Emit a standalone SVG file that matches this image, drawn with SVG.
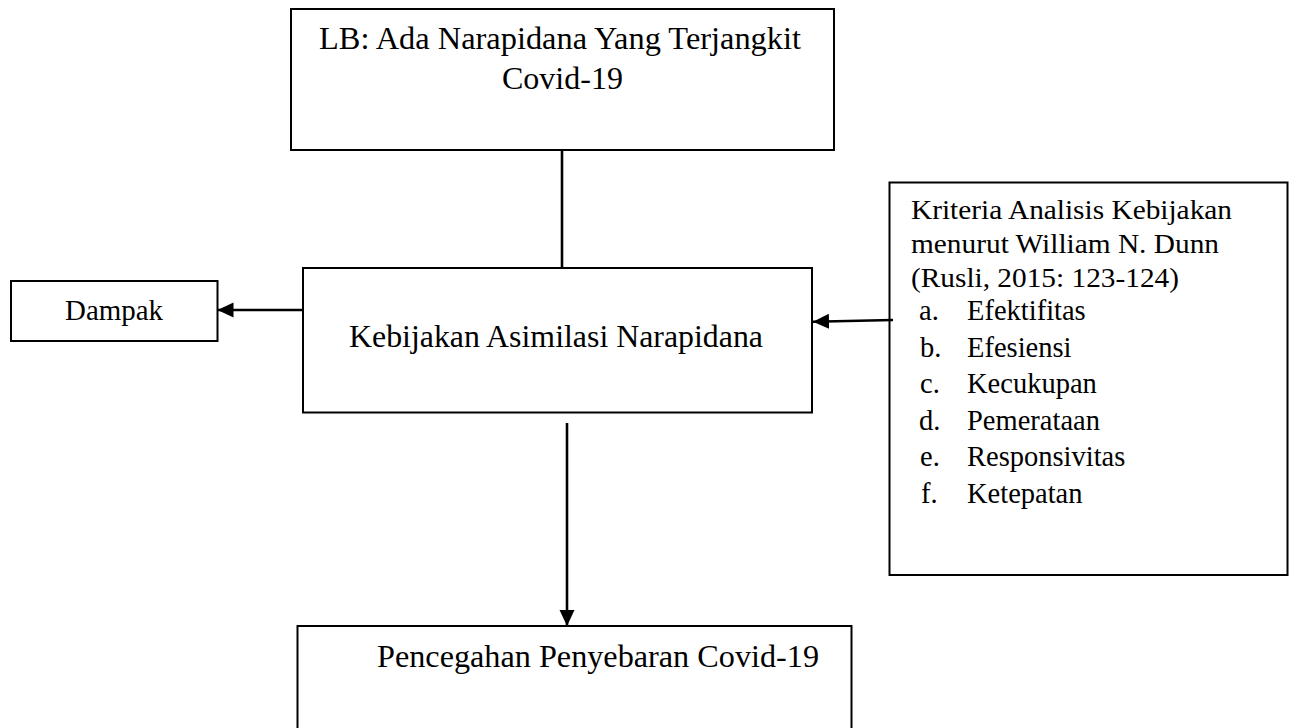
<svg xmlns="http://www.w3.org/2000/svg" width="1294" height="728" viewBox="0 0 1294 728">
<style>
  .box { fill: #ffffff; stroke: #000000; stroke-width: 2; }
  .t { font-family: "Liberation Serif", "Times New Roman", serif; fill: #000000; }
  .conn { stroke: #000000; stroke-width: 2.6; fill: none; }
</style>
<defs>
  <marker id="ah" markerUnits="userSpaceOnUse" markerWidth="18" markerHeight="16" refX="16" refY="7.5" orient="auto">
    <path d="M0,0 L16,7.5 L0,15 Z" fill="#000000"/>
  </marker>
</defs>
<rect width="1294" height="728" fill="#ffffff"/>

<g id="node-lb">
  <rect class="box" x="291" y="9" width="543" height="141"/>
  <text class="t" x="319" y="49" font-size="32" textLength="482" lengthAdjust="spacingAndGlyphs">LB: Ada Narapidana Yang Terjangkit</text>
  <text class="t" x="502" y="89" font-size="32">Covid-19</text>
</g>

<g id="node-kebijakan">
  <rect class="box" x="303" y="268" width="509" height="144.5"/>
  <text class="t" x="349" y="347" font-size="32" textLength="414" lengthAdjust="spacingAndGlyphs">Kebijakan Asimilasi Narapidana</text>
</g>

<g id="node-dampak">
  <rect class="box" x="11" y="281" width="206.5" height="60"/>
  <text class="t" x="65" y="320" font-size="28.5" textLength="98" lengthAdjust="spacingAndGlyphs">Dampak</text>
</g>

<g id="node-kriteria">
  <rect class="box" x="889.5" y="182.5" width="398" height="392.5"/>
  <text class="t" x="911" y="218.5" font-size="28" textLength="321" lengthAdjust="spacingAndGlyphs">Kriteria Analisis Kebijakan</text>
  <text class="t" x="911" y="252.5" font-size="28" textLength="308" lengthAdjust="spacingAndGlyphs">menurut William N. Dunn</text>
  <text class="t" x="911" y="286.5" font-size="28" textLength="268" lengthAdjust="spacingAndGlyphs">(Rusli, 2015: 123-124)</text>
  <text class="t" font-size="28.5">
    <tspan x="919" y="320">a.</tspan><tspan x="967" y="320">Efektifitas</tspan>
    <tspan x="920" y="356.5">b.</tspan><tspan x="967" y="356.5">Efesiensi</tspan>
    <tspan x="920" y="393">c.</tspan><tspan x="967" y="393">Kecukupan</tspan>
    <tspan x="919" y="429.5">d.</tspan><tspan x="967" y="429.5">Pemerataan</tspan>
    <tspan x="920" y="466">e.</tspan><tspan x="967" y="466">Responsivitas</tspan>
    <tspan x="921" y="502.5">f.</tspan><tspan x="967" y="502.5">Ketepatan</tspan>
  </text>
</g>

<g id="node-pencegahan">
  <rect class="box" x="297.5" y="626" width="554" height="130"/>
  <text class="t" x="377" y="667" font-size="32" textLength="442" lengthAdjust="spacingAndGlyphs">Pencegahan Penyebaran Covid-19</text>
</g>

<g id="connectors">
  <line class="conn" x1="562" y1="150" x2="562" y2="268"/>
  <line class="conn" x1="303" y1="310" x2="217.5" y2="310" marker-end="url(#ah)"/>
  <line class="conn" x1="893" y1="320" x2="813" y2="321.7" marker-end="url(#ah)"/>
  <line class="conn" x1="567" y1="423" x2="567" y2="626" marker-end="url(#ah)"/>
</g>
</svg>
